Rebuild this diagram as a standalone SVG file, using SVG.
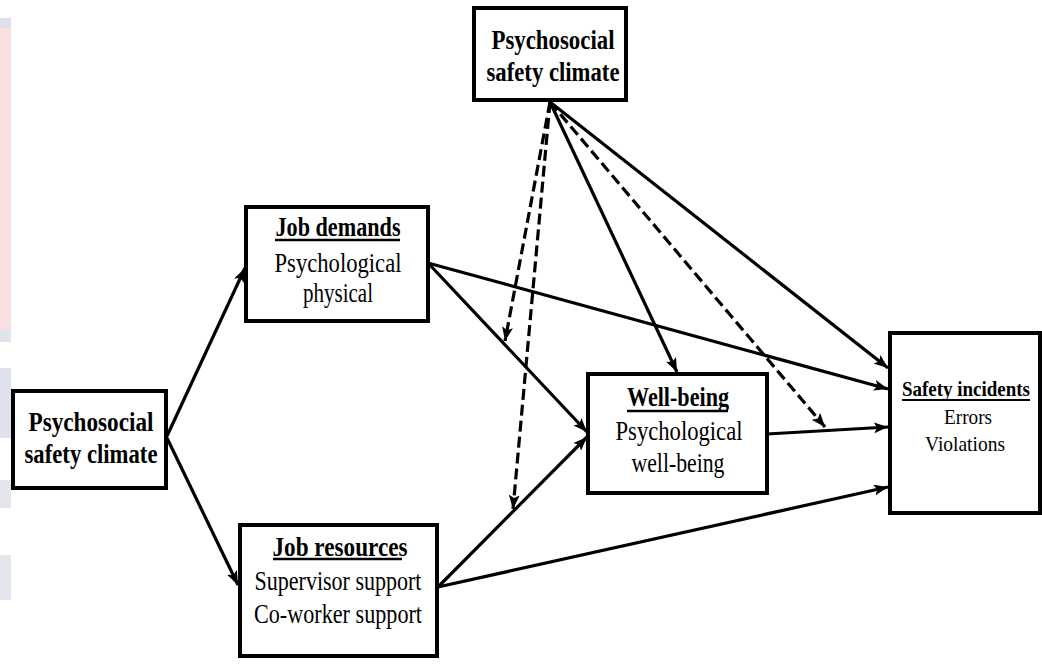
<svg xmlns="http://www.w3.org/2000/svg" width="1042" height="666" viewBox="0 0 1042 666">
  <style>
    .box { fill: #ffffff; stroke: #000000; stroke-width: 4; }
    .t { font-family: "Liberation Serif", "Times New Roman", serif; fill: #000000; text-anchor: middle; }
    .b { font-weight: bold; }
    .big { font-size: 28px; }
    .mid { font-size: 27px; }
    .sm { font-size: 21px; }
    .ul { stroke: #000000; stroke-width: 2.5; }
    .c { fill: none; stroke: #000000; stroke-width: 3.2; }
    .d { stroke-dasharray: 11 5; }
  </style>
  <defs>
    <marker id="arrow" markerUnits="userSpaceOnUse" markerWidth="15" markerHeight="11" refX="14" refY="5.5" orient="auto">
      <path d="M0,0 L14,5.5 L0,11 L3,5.5 z" fill="#000000"/>
    </marker>
  </defs>

  <rect width="1042" height="666" fill="#ffffff"/>

  <!-- faint side band -->
  <g id="side-band">
    <rect x="0" y="18" width="11" height="10" fill="#dfe1ea"/>
    <rect x="0" y="28" width="11" height="302" fill="#fadfe2"/>
    <rect x="0" y="330" width="11" height="12" fill="#e2e4ec"/>
    <rect x="0" y="368" width="11" height="70" fill="#dfe2ea"/>
    <rect x="0" y="480" width="11" height="28" fill="#e4e6ee"/>
    <rect x="0" y="555" width="11" height="45" fill="#e4e6ee"/>
  </g>

  <!-- connectors -->
  <g id="connectors">
    <line class="c" x1="167" y1="436" x2="245" y2="268" marker-end="url(#arrow)"/>
    <line class="c" x1="167" y1="438" x2="238" y2="585" marker-end="url(#arrow)"/>
    <line class="c" x1="428" y1="263" x2="587" y2="432" marker-end="url(#arrow)"/>
    <line class="c" x1="428" y1="263" x2="888" y2="389" marker-end="url(#arrow)"/>
    <line class="c" x1="438" y1="587" x2="587" y2="437" marker-end="url(#arrow)"/>
    <line class="c" x1="438" y1="587" x2="888" y2="487" marker-end="url(#arrow)"/>
    <line class="c" x1="767" y1="434" x2="888" y2="427" marker-end="url(#arrow)"/>
    <line class="c" x1="550" y1="102" x2="677" y2="372" marker-end="url(#arrow)"/>
    <line class="c" x1="550" y1="102" x2="888" y2="368" marker-end="url(#arrow)"/>
    <line class="c d" x1="550" y1="102" x2="505" y2="341" marker-end="url(#arrow)"/>
    <line class="c d" x1="550" y1="102" x2="513" y2="509" marker-end="url(#arrow)"/>
    <line class="c d" x1="550" y1="102" x2="825" y2="427" marker-end="url(#arrow)"/>
  </g>

  <!-- moderator: psychosocial safety climate (top) -->
  <g id="psc-top">
    <rect class="box" x="474" y="8" width="152" height="92"/>
    <text class="t b big" x="553" y="49" textLength="123" lengthAdjust="spacingAndGlyphs">Psychosocial</text>
    <text class="t b big" x="553" y="81" textLength="133" lengthAdjust="spacingAndGlyphs">safety climate</text>
  </g>

  <!-- antecedent: psychosocial safety climate (left) -->
  <g id="psc-left">
    <rect class="box" x="13" y="391" width="153" height="97"/>
    <text class="t b big" x="91" y="431" textLength="125" lengthAdjust="spacingAndGlyphs">Psychosocial</text>
    <text class="t b big" x="91" y="463" textLength="133" lengthAdjust="spacingAndGlyphs">safety climate</text>
  </g>

  <!-- job demands -->
  <g id="job-demands">
    <rect class="box" x="246" y="207" width="182" height="114"/>
    <text class="t b mid" x="338" y="236" textLength="125" lengthAdjust="spacingAndGlyphs">Job demands</text>
    <line class="ul" x1="275" y1="240" x2="400" y2="240"/>
    <text class="t mid" x="338" y="272" textLength="127" lengthAdjust="spacingAndGlyphs">Psychological</text>
    <text class="t mid" x="338" y="302" textLength="70" lengthAdjust="spacingAndGlyphs">physical</text>
  </g>

  <!-- job resources -->
  <g id="job-resources">
    <rect class="box" x="240" y="525" width="197" height="131"/>
    <text class="t b mid" x="340" y="556" textLength="135" lengthAdjust="spacingAndGlyphs">Job resources</text>
    <line class="ul" x1="273" y1="559" x2="402" y2="559"/>
    <text class="t mid" x="338" y="590" textLength="167" lengthAdjust="spacingAndGlyphs">Supervisor support</text>
    <text class="t mid" x="338" y="623" textLength="168" lengthAdjust="spacingAndGlyphs">Co-worker support</text>
  </g>

  <!-- well-being -->
  <g id="well-being">
    <rect class="box" x="588" y="374" width="179" height="119"/>
    <text class="t b mid" x="678" y="406" textLength="102" lengthAdjust="spacingAndGlyphs">Well-being</text>
    <line class="ul" x1="627" y1="411" x2="728" y2="411"/>
    <text class="t mid" x="679" y="440" textLength="127" lengthAdjust="spacingAndGlyphs">Psychological</text>
    <text class="t mid" x="678" y="472" textLength="93" lengthAdjust="spacingAndGlyphs">well-being</text>
  </g>

  <!-- safety incidents -->
  <g id="safety-incidents">
    <rect class="box" x="890" y="333" width="150" height="180"/>
    <text class="t b sm" x="966" y="396" textLength="128" lengthAdjust="spacingAndGlyphs">Safety incidents</text>
    <line class="ul" x1="902" y1="400" x2="1030" y2="400" style="stroke-width:2"/>
    <text class="t sm" x="968" y="424" textLength="48" lengthAdjust="spacingAndGlyphs">Errors</text>
    <text class="t sm" x="965" y="451" textLength="80" lengthAdjust="spacingAndGlyphs">Violations</text>
  </g>
</svg>
